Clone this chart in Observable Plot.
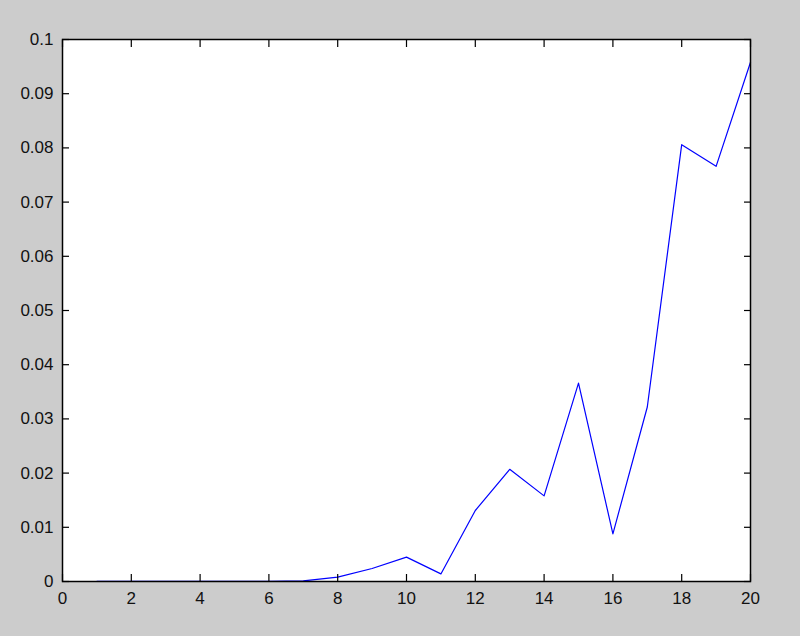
<!DOCTYPE html>
<html>
<head>
<meta charset="utf-8">
<script src="https://cdn.jsdelivr.net/npm/d3@7"></script>
<script src="https://cdn.jsdelivr.net/npm/@observablehq/plot@0.6"></script>
<style>
  html, body { margin: 0; padding: 0; background: #cccccc; }
  #chart svg { display: block; background: #cccccc; }
</style>
</head>
<body>
<div id="chart"></div>
<script>
const xs = [1, 2, 3, 4, 5, 6, 7, 8, 9, 10, 11, 12, 13, 14, 15, 16, 17, 18, 19, 20];
const ys = [0.00002, 0.00002, 0.00002, 0.00002, 0.00002, 0.00003, 0.0001, 0.0008, 0.0024, 0.0045, 0.0014, 0.0131, 0.0207, 0.0158, 0.0366, 0.0088, 0.0322, 0.0806, 0.0766, 0.0958];
const xTicks = [0, 2, 4, 6, 8, 10, 12, 14, 16, 18, 20];
const yTicks = [0, 0.01, 0.02, 0.03, 0.04, 0.05, 0.06, 0.07, 0.08, 0.09, 0.1];

const data = xs.map((x, i) => ({x, y: ys[i]}));
const fmt = d => String(+d.toFixed(2));
const none = () => "";

const chart = Plot.plot({
  width: 800,
  height: 636,
  marginLeft: 62,
  marginRight: 50,
  marginTop: 39,
  marginBottom: 55,
  style: {background: "#cccccc", fontFamily: "Liberation Sans, Arial, sans-serif", fontSize: "17px", color: "#111"},
  x: {domain: [0, 20]},
  y: {domain: [0, 0.1]},
  marks: [
    Plot.frame({fill: "white", stroke: "none"}),
    Plot.line(data, {x: "x", y: "y", stroke: "#0000ff", strokeWidth: 1.2}),
    Plot.axisX({anchor: "bottom", ticks: xTicks, tickSize: -7, tickPadding: 17, tickFormat: fmt, label: null, stroke: "black", strokeWidth: 1.2, fill: "#111"}),
    Plot.axisX({anchor: "top", ticks: xTicks, tickSize: -7, tickFormat: none, label: null, stroke: "black", strokeWidth: 1.2}),
    Plot.axisY({anchor: "left", ticks: yTicks, tickSize: -7, tickPadding: 16, tickFormat: fmt, label: null, stroke: "black", strokeWidth: 1.2, fill: "#111"}),
    Plot.axisY({anchor: "right", ticks: yTicks, tickSize: -7, tickFormat: none, label: null, stroke: "black", strokeWidth: 1.2}),
    Plot.frame({stroke: "black", strokeWidth: 1.5})
  ]
});
document.getElementById("chart").appendChild(chart);
</script>
</body>
</html>
